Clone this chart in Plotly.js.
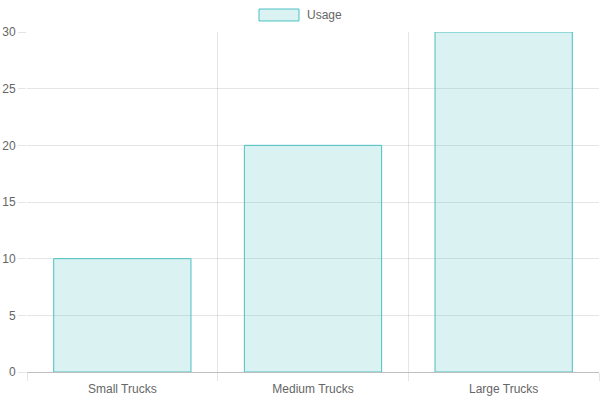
<!DOCTYPE html>
<html>
<head>
<meta charset="utf-8">
<script src="https://cdn.plot.ly/plotly-3.0.1.min.js"></script>
<style>
  html, body { margin: 0; padding: 0; background: #fff; }
  #chart { width: 600px; height: 400px; }
</style>
</head>
<body>
<div id="chart"></div>
<script>
// chart data
const categories = ['Small Trucks', 'Medium Trucks', 'Large Trucks'];
const usage = [10, 20, 30];
const seriesName = 'Usage';

(function () {
  const fill = 'rgba(75,192,192,0.2)';
  const border = 'rgb(75,192,192)';
  const grid = 'rgba(0,0,0,0.1)';
  const font = { family: 'Liberation Sans, Arial, sans-serif', size: 12, color: '#666' };

  // category boundaries for the vertical grid lines
  const bounds = [];
  for (let i = 0; i <= categories.length; i++) bounds.push(i - 0.5);

  const traces = [{
    type: 'bar',
    x: categories,
    y: usage,
    name: seriesName,
    marker: { color: fill, line: { color: border, width: 1 } },
    hoverinfo: 'x+y'
  }, {
    // invisible helper trace so the second x axis gets drawn
    type: 'scatter',
    x: [bounds[0], bounds[bounds.length - 1]],
    y: [0, 0],
    xaxis: 'x2',
    mode: 'markers',
    marker: { opacity: 0 },
    hoverinfo: 'skip',
    showlegend: false
  }];

  const layout = {
    width: 600,
    height: 400,
    margin: { l: 27, r: 1, t: 32, b: 28 },
    paper_bgcolor: '#fff',
    plot_bgcolor: '#fff',
    font: font,
    showlegend: false,
    bargap: 0.28,
    xaxis: {
      type: 'category',
      range: [-0.5, categories.length - 0.5],
      showgrid: false,
      zeroline: false,
      showline: false,
      ticks: '',
      ticklabelstandoff: 8,
      tickfont: font,
      fixedrange: true
    },
    xaxis2: {
      overlaying: 'x',
      side: 'bottom',
      range: [bounds[0], bounds[bounds.length - 1]],
      tickvals: bounds,
      showticklabels: false,
      showgrid: true,
      gridcolor: grid,
      gridwidth: 1,
      zeroline: false,
      ticks: 'outside',
      ticklen: 8,
      tickcolor: grid,
      fixedrange: true
    },
    yaxis: {
      range: [0, 30],
      dtick: 5,
      showgrid: true,
      gridcolor: grid,
      zeroline: true,
      zerolinecolor: 'rgba(0,0,0,0.25)',
      zerolinewidth: 1,
      showline: false,
      ticks: 'outside',
      ticklen: 8,
      tickcolor: grid,
      tickfont: font,
      fixedrange: true
    },
    shapes: [{
      type: 'rect',
      xref: 'paper', yref: 'paper',
      x0: 0.4056, x1: 0.4755, y0: 1.0324, y1: 1.0676,
      fillcolor: fill,
      line: { color: border, width: 1 }
    }],
    annotations: [{
      xref: 'paper', yref: 'paper',
      x: 0.486, y: 1.05,
      xanchor: 'left', yanchor: 'middle',
      text: seriesName,
      showarrow: false,
      font: font
    }]
  };

  Plotly.newPlot('chart', traces, layout, { displayModeBar: false, staticPlot: true });
})();
</script>
</body>
</html>
